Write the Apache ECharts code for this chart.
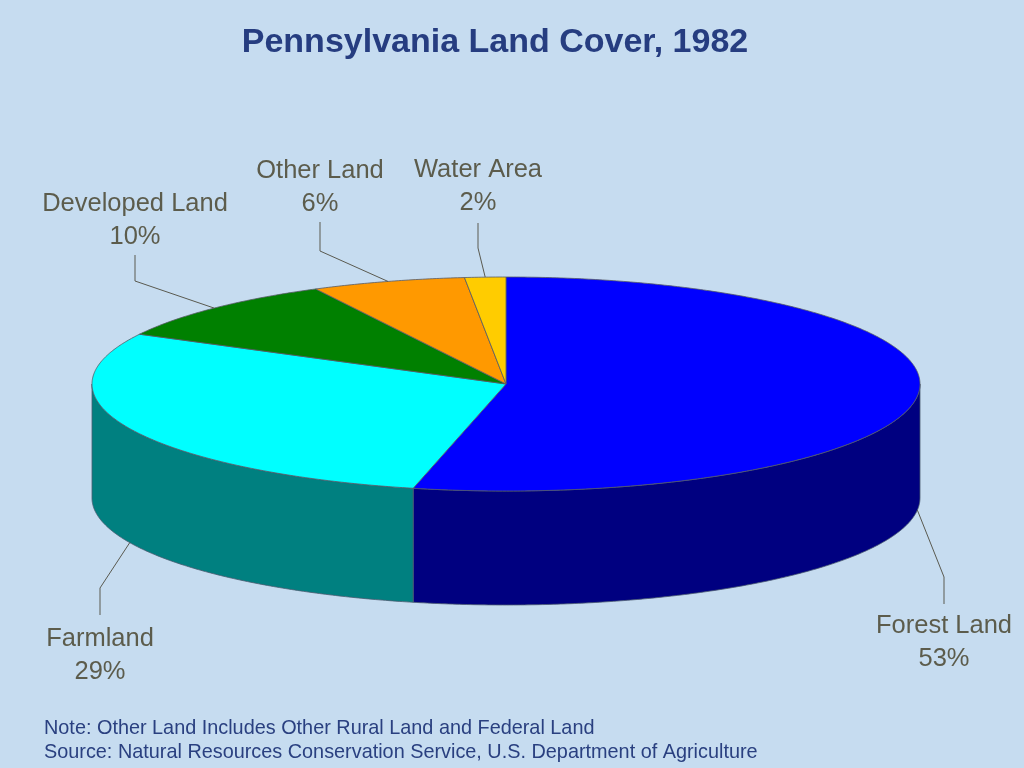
<!DOCTYPE html>
<html><head><meta charset="utf-8">
<style>html,body{margin:0;padding:0;background:#c6dcf0}#c{width:1024px;height:768px}</style>
<script src="https://cdn.jsdelivr.net/npm/echarts@6/dist/echarts.min.js"></script>
</head><body><div id="c"></div>
<script>
const categories = ['Forest Land','Farmland','Developed Land','Other Land','Water Area'];
const shares = [53.6, 29.1, 9.7, 6.0, 1.6];
const percentLabels = ['53%','29%','10%','6%','2%'];
const topColors = ['#0000ff','#00ffff','#008000','#ff9900','#ffcc00'];
const sideColors = ['#000080','#008080','#004000','#804c00','#806600'];
const noteLines = ['Note: Other Land Includes Other Rural Land and Federal Land',
                   'Source: Natural Resources Conservation Service, U.S. Department of Agriculture'];
const labelX = [944, 100, 135, 320, 478];
const labelMidY = [642, 655, 220, 187, 186];
const elbowY = [[577,604],[588,615],[281,255],[251,222],[248,223]];

const cx = 506, cy = 384, rx = 414, ry = 107, depth = 114;
const total = shares.reduce((a,b)=>a+b,0);
let run = 0;
const sliceData = shares.map((v,i)=>{ const s = run/total*360; run += v; return [s, run/total*360, i]; });
const pt = (deg,dy=0)=>{ const r=deg*Math.PI/180; return [cx+rx*Math.sin(r), cy-ry*Math.cos(r)+dy]; };
const arc = (a,b,dy=0)=>{ const n=Math.max(2,Math.ceil(Math.abs(b-a))*2), p=[]; for(let k=0;k<=n;k++) p.push(pt(a+(b-a)*k/n,dy)); return p; };

function sideItem(params, api){
  const a=Math.max(api.value(0),90), b=Math.min(api.value(1),270), i=api.value(2);
  if(a>=b) return {type:'group',children:[]};
  return {type:'polygon',shape:{points:arc(a,b).concat(arc(b,a,depth))},
    style:{fill:sideColors[i],stroke:'#4a5a70',lineWidth:0.8}};
}
function topItem(params, api){
  const a=api.value(0), b=api.value(1), i=api.value(2);
  return {type:'polygon',shape:{points:[[cx,cy]].concat(arc(a,b))},
    style:{fill:topColors[i],stroke:'#555a66',lineWidth:0.8}};
}
function labelItem(params, api){
  const a=api.value(0), b=api.value(1), i=api.value(2), m=(a+b)/2;
  const onSide = m>90 && m<270;
  const start = pt(m,onSide?depth:0);
  return {type:'group',children:[
    {type:'polyline',shape:{points:[start,[labelX[i],elbowY[i][0]],[labelX[i],elbowY[i][1]]]},
     style:{fill:'none',stroke:'#5a5a50',lineWidth:1}},
    {type:'text',style:{x:labelX[i],y:labelMidY[i],text:categories[i]+'\n'+percentLabels[i],
      textAlign:'center',textVerticalAlign:'middle',fill:'#5c5c4c',
      font:'25.5px "Liberation Sans", Arial, sans-serif',lineHeight:33}}
  ]};
}
const base = {type:'custom',coordinateSystem:'none',silent:true,animation:false,clip:false,data:sliceData};
const chart = echarts.init(document.getElementById('c'),null,{renderer:'canvas'});
chart.setOption({
  animation:false,
  backgroundColor:'#c6dcf0',
  title:[
    {text:'Pennsylvania Land Cover, 1982',left:490,top:21,textAlign:'center',
     textStyle:{color:'#263d80',fontSize:34,fontWeight:'bold',fontFamily:'"Liberation Sans", Arial, sans-serif'}},
    {text:noteLines.join('\n'),left:39,top:712,
     textStyle:{color:'#2a4080',fontSize:19.85,fontWeight:'normal',lineHeight:24,fontFamily:'"Liberation Sans", Arial, sans-serif'}}
  ],
  series:[
    Object.assign({},base,{name:'sides',z:1,renderItem:sideItem}),
    Object.assign({},base,{name:'tops',z:2,renderItem:topItem}),
    Object.assign({},base,{name:'labels',z:3,renderItem:labelItem})
  ]
});
</script></body></html>
